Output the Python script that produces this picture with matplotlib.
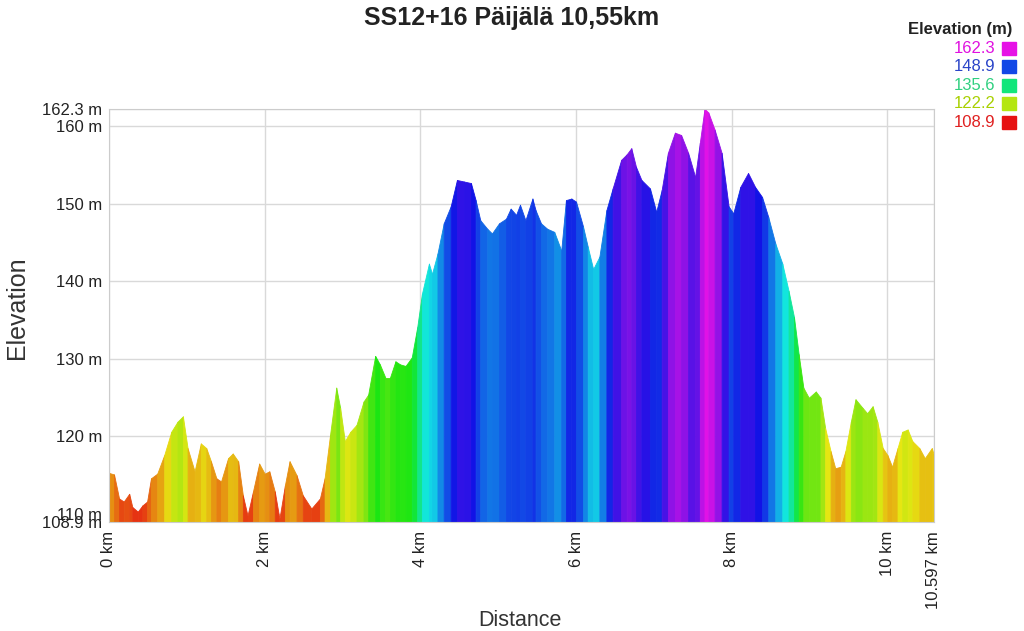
import numpy as np
import matplotlib
matplotlib.use("Agg")
import matplotlib.pyplot as plt
from matplotlib.colors import hsv_to_rgb, ListedColormap, Normalize

plt.rcParams['font.family'] = ['Liberation Sans', 'DejaVu Sans']

# profile
dist_km = [0.00, 0.065, 0.13, 0.19, 0.26, 0.30, 0.37, 0.43, 0.49, 0.54,
           0.62, 0.71, 0.80, 0.88, 0.95, 1.01, 1.10, 1.18, 1.25, 1.31,
           1.38, 1.44, 1.53, 1.59, 1.66, 1.72, 1.78, 1.85, 1.93, 2.00,
           2.06, 2.13, 2.19, 2.26, 2.32, 2.41, 2.49, 2.60, 2.71, 2.77,
           2.84, 2.92, 2.97, 3.03, 3.10, 3.18, 3.27, 3.33, 3.42, 3.48,
           3.55, 3.61, 3.68, 3.74, 3.81, 3.89, 3.96, 4.02, 4.11, 4.15,
           4.22, 4.30, 4.39, 4.47, 4.56, 4.65, 4.71, 4.77, 4.86, 4.92,
           5.01, 5.10, 5.16, 5.23, 5.28, 5.35, 5.44, 5.48, 5.55, 5.63,
           5.72, 5.81, 5.87, 5.94, 6.00, 6.09, 6.15, 6.22, 6.30, 6.39,
           6.47, 6.58, 6.65, 6.71, 6.77, 6.84, 6.95, 7.03, 7.10, 7.18,
           7.27, 7.35, 7.44, 7.53, 7.59, 7.65, 7.70, 7.78, 7.87, 7.96,
           8.02, 8.11, 8.21, 8.30, 8.39, 8.47, 8.56, 8.65, 8.73, 8.80,
           8.86, 8.92, 8.99, 9.08, 9.14, 9.20, 9.27, 9.33, 9.40, 9.46,
           9.53, 9.59, 9.68, 9.74, 9.81, 9.87, 9.94, 10.00, 10.06, 10.13,
           10.19, 10.26, 10.32, 10.41, 10.48, 10.57, 10.597]

elev_m = [115.3, 115.1, 112.0, 111.6, 112.6, 110.9, 110.3, 111.1, 111.6, 114.6,
          115.2, 117.6, 120.6, 121.9, 122.6, 118.5, 115.5, 119.1, 118.5, 116.8,
          114.6, 114.2, 117.2, 117.8, 116.8, 112.4, 109.8, 112.9, 116.5, 115.2,
          115.5, 112.9, 109.4, 113.7, 116.8, 115.0, 112.4, 110.7, 112.0, 114.6,
          120.2, 126.3, 123.7, 119.4, 120.6, 121.5, 124.5, 125.4, 130.4, 129.3,
          127.6, 127.6, 129.7, 129.3, 129.1, 130.2, 134.1, 138.4, 142.3, 141.0,
          143.6, 147.5, 149.7, 153.1, 152.9, 152.7, 150.5, 147.9, 146.8, 146.2,
          147.5, 148.1, 149.4, 148.6, 149.9, 147.9, 150.7, 149.2, 147.5, 146.8,
          146.4, 144.0, 150.5, 150.7, 150.3, 147.1, 144.5, 141.6, 143.2, 149.2,
          152.0, 155.7, 156.4, 157.2, 154.8, 153.1, 152.0, 149.0, 151.8, 156.6,
          159.2, 158.9, 156.6, 153.5, 157.9, 162.3, 161.8, 159.6, 156.6, 149.7,
          148.8, 152.2, 154.0, 152.2, 150.9, 148.3, 144.9, 142.3, 138.8, 135.4,
          130.6, 126.3, 125.0, 125.8, 125.0, 121.1, 118.1, 115.9, 116.1, 118.1,
          121.9, 124.8, 123.7, 123.0, 123.9, 121.9, 118.5, 117.6, 116.1, 118.5,
          120.6, 120.9, 119.4, 118.5, 117.2, 118.5, 117.6]

elev_min, elev_max = 108.9, 162.3
total_km = 10.597
legend_vals = [162.3, 148.9, 135.6, 122.2, 108.9]
x_ticks = [0, 2, 4, 6, 8, 10, total_km]
x_labels = ["0 km", "2 km", "4 km", "6 km", "8 km", "10 km", "10.597 km"]
y_ticks = [108.9, 110, 120, 130, 140, 150, 160, 162.3]
y_labels = ["108.9 m", "110 m", "120 m", "130 m", "140 m", "150 m", "160 m", "162.3 m"]

# hue goes red -> magenta with elevation
hues = np.linspace(0, 300 / 360, 256)
hsv = np.stack([hues, np.full(256, 0.92), np.full(256, 0.9)], axis=1)
cmap = ListedColormap(hsv_to_rgb(hsv))
norm = Normalize(elev_min, elev_max)

fig = plt.figure(figsize=(10.24, 6.31), dpi=100)
ax = fig.add_axes([0.1064, 0.172, 0.8056, 0.6558])

x = np.array(dist_km)
y = np.array(elev_m)
for i in range(len(x) - 1):
    c = cmap(norm((y[i] + y[i + 1]) / 2))
    ax.fill_between(x[i:i + 2], elev_min, y[i:i + 2], color=c,
                    linewidth=0.6, edgecolor=c, zorder=2)

ax.set_xlim(0, total_km)
ax.set_ylim(elev_min, elev_max)
ax.set_xticks(x_ticks)
ax.set_xticklabels(x_labels, rotation=90, fontsize=12, color='#222222')
ax.set_yticks(y_ticks)
ax.set_yticklabels(y_labels, fontsize=12, color='#222222')
ax.tick_params(axis='y', length=0, pad=5)
ax.tick_params(axis='x', length=0, pad=6)
ax.grid(True, color='#d9d9d9', linewidth=1, zorder=0)
ax.set_axisbelow(True)
for s in ax.spines.values():
    s.set_color('#cccccc')

fig.text(0.5, 0.971, "SS12+16 Päijälä 10,55km", ha='center', va='center',
         fontsize=18, fontweight='bold', color='#222222')
fig.text(0.017, 0.512, "Elevation", rotation=90, ha='center', va='center',
         fontsize=18, color='#333333')
fig.text(0.508, 0.017, "Distance", ha='center', va='center',
         fontsize=15.5, color='#333333')

# legend in the top right corner
fig.text(0.989, 0.953, "Elevation (m)", ha='right', va='center',
         fontsize=12, fontweight='bold', color='#222222')
label_cols = ['#e010e0', '#2a44c8', '#30d080', '#a8d000', '#e02020']
for k, (v, lc) in enumerate(zip(legend_vals, label_cols)):
    yy = 1 - (48.5 + k * 18.4) / 631
    fig.text(0.972, yy, f"{v:.1f}", ha='right', va='center',
             fontsize=12, color=lc)
    fig.patches.append(plt.Rectangle((0.979, yy - 0.0103), 0.0128, 0.0206,
                                     transform=fig.transFigure,
                                     color=cmap(norm(v)), figure=fig))

fig.savefig("out.png", dpi=100)
